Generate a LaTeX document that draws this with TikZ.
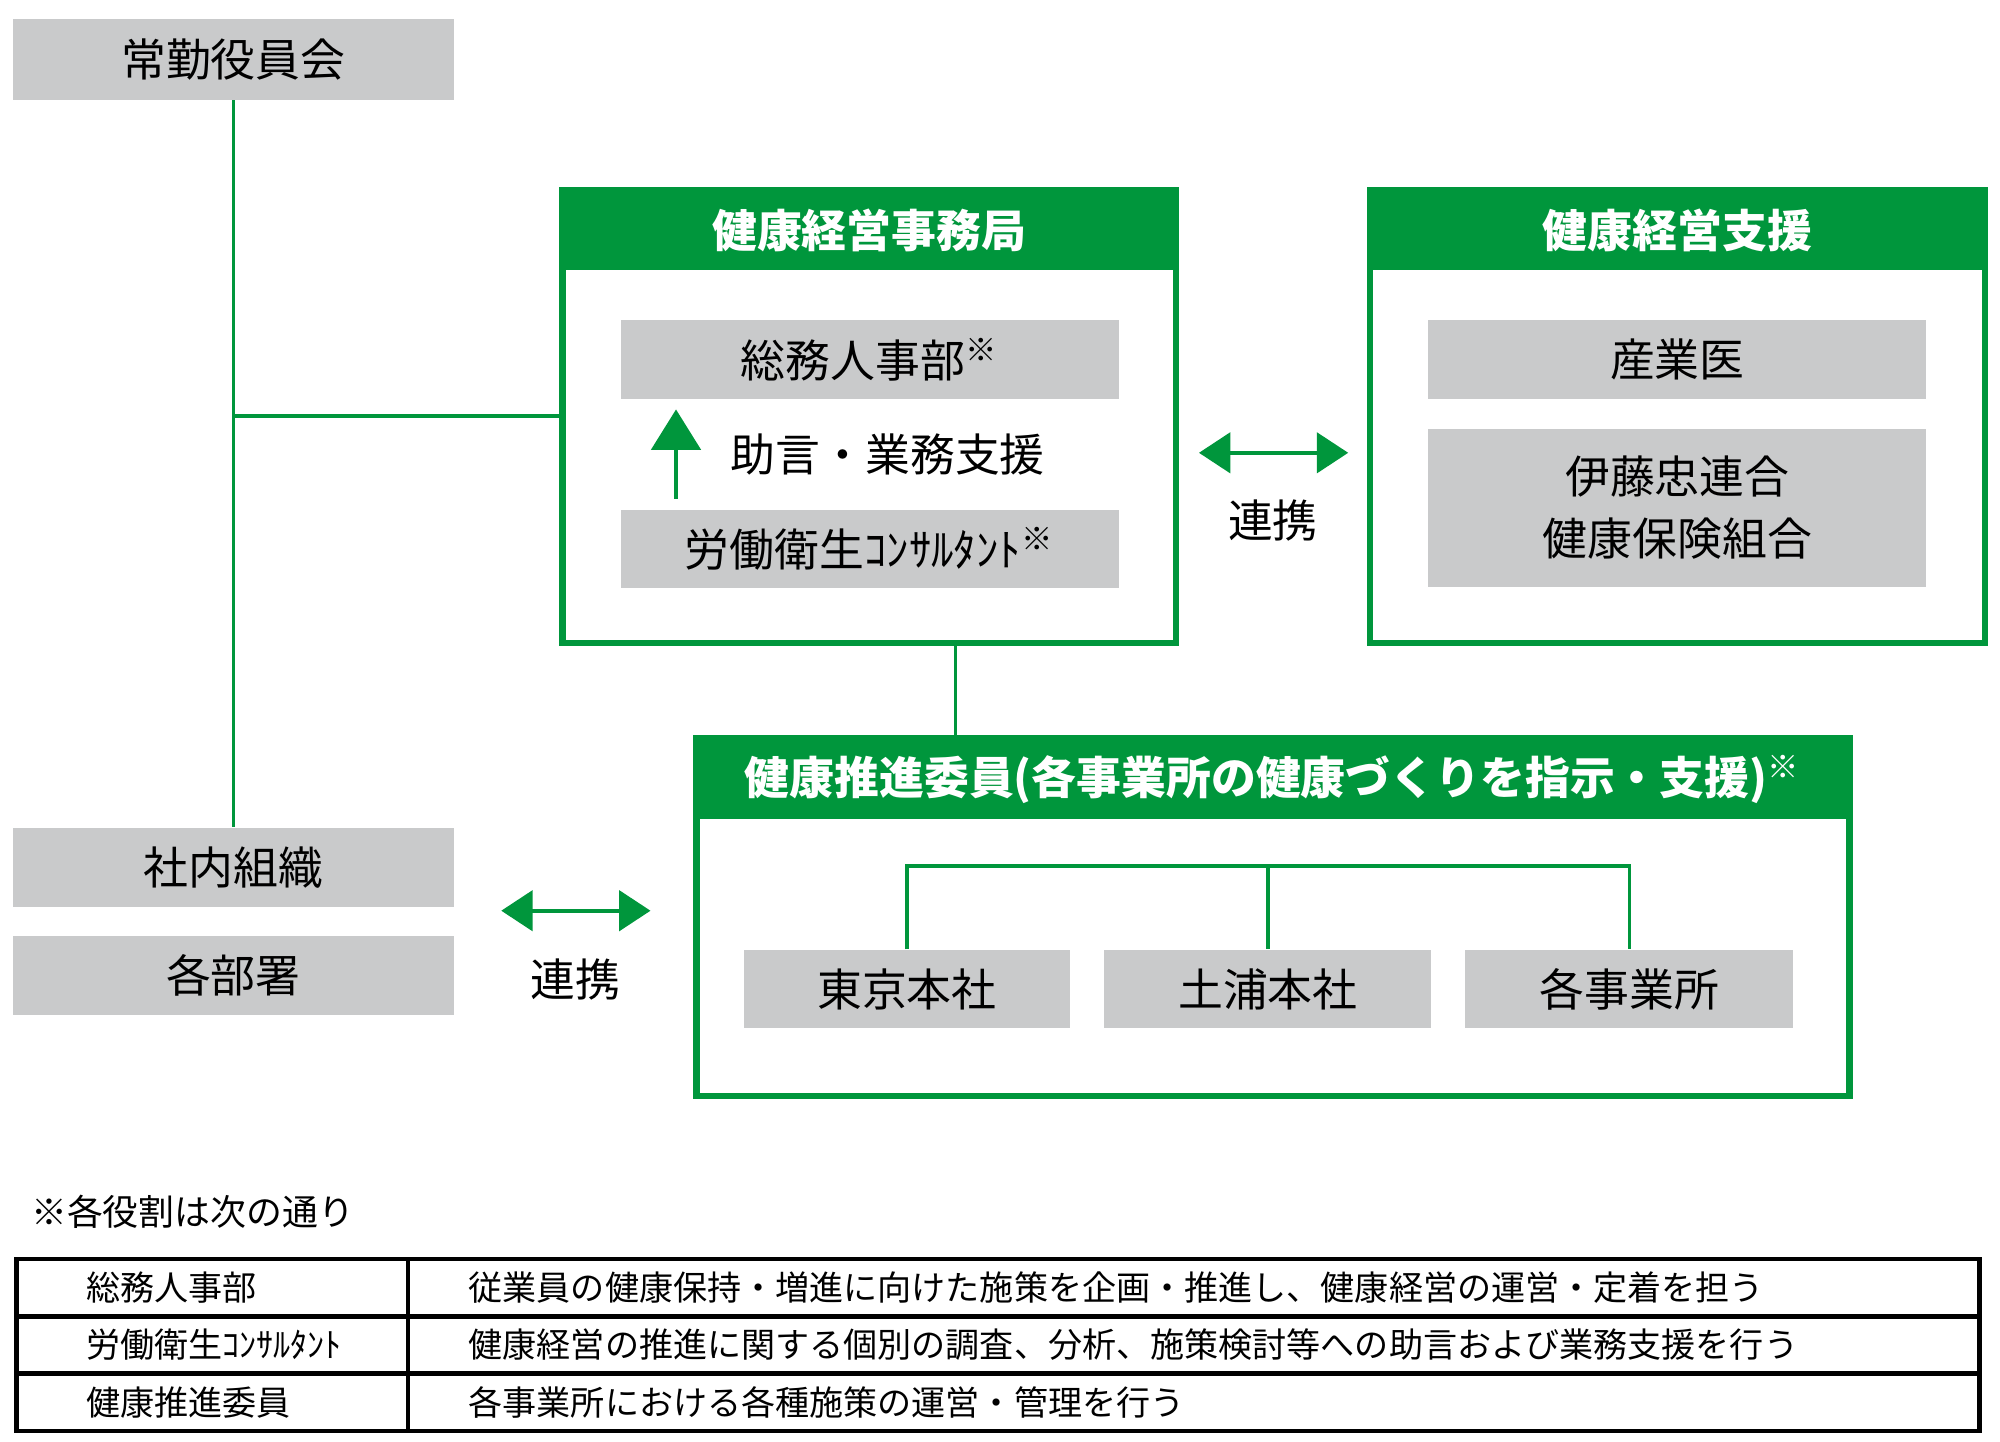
\documentclass[tikz,border=0pt]{standalone}
\usepackage{fontspec}
\setmainfont{Noto Sans CJK JP}
\usetikzlibrary{positioning,arrows.meta}
\definecolor{kgreen}{HTML}{00963C}
\definecolor{kgray}{HTML}{C9CACB}
\tikzset{
  graybox/.style={fill=kgray,draw=none,inner sep=0pt,font=\fontsize{10}{14}\selectfont,align=center},
  frame/.style={draw=kgreen,line width=1.4pt},
  head/.style={fill=kgreen,draw=none},
  headtext/.style={text=white,font=\fontsize{10}{12}\selectfont\bfseries},
  link/.style={kgreen,line width=0.8pt},
  both/.style={kgreen,line width=0.8pt,{Triangle[length=7pt,width=9pt]}-{Triangle[length=7pt,width=9pt]}},
  cell/.style={font=\fontsize{7.6}{9}\selectfont,anchor=west}
}
\begin{document}
\begin{tikzpicture}[x=0.01cm,y=-0.01cm]
\useasboundingbox (0,0) rectangle (1568,1130);
% executives
\node[graybox,minimum width=3.46cm,minimum height=0.63cm] (exec) at (183,46.5) {常勤役員会};
\node[graybox,minimum width=3.46cm,minimum height=0.62cm] (inside) at (183,680) {社内組織};
\node[graybox,minimum width=3.46cm,minimum height=0.62cm] (depts) at (183,765) {各部署};
% office
\fill[head] (441,149) rectangle (922,212);
\draw[frame] (441,149) rectangle (922,504);
\node[headtext] (officeT) at (681.5,181) {健康経営事務局};
\coordinate (officeL) at (441,326);
\coordinate (officeB) at (749,504);
\node[graybox,minimum width=3.9cm,minimum height=0.62cm] (hr) at (682,282) {総務人事部\textsuperscript{※}};
\node[graybox,minimum width=3.9cm,minimum height=0.61cm] (cons) at (682,430.5) {労働衛生ｺﾝｻﾙﾀﾝﾄ\textsuperscript{※}};
\coordinate (arB) at (530,391);
\coordinate (arT) at (530,321);
\draw[link,-{Triangle[length=9pt,width=11pt]}] (arB) -- (arT);
\node[font=\fontsize{10}{12}\selectfont] (advice) at (696,356) {助言・業務支援};
% support
\fill[head] (1074,149) rectangle (1556,212);
\draw[frame] (1074,149) rectangle (1556,504);
\node[headtext] (supT) at (1315,181) {健康経営支援};
\node[graybox,minimum width=3.9cm,minimum height=0.62cm] (doc) at (1315,282) {産業医};
\node[graybox,minimum width=3.9cm,minimum height=1.24cm] (union) at (1315,398) {伊藤忠連合\\健康保険組合};
\coordinate (c1l) at (940,355);
\coordinate (c1r) at (1057,355);
\draw[both] (c1l) -- (c1r);
\node[font=\fontsize{10}{12}\selectfont] (c1) at (998,408) {連携};
% promotion
\fill[head] (546,579) rectangle (1450,642);
\draw[frame] (546,579) rectangle (1450,859);
\node[headtext] (promT) at (998,611) {健康推進委員(各事業所の健康づくりを指示・支援)\textsuperscript{※}};
\coordinate (promTop) at (749,579);
\node[graybox,minimum width=2.56cm,minimum height=0.61cm] (tokyo) at (711,775.5) {東京本社};
\node[graybox,minimum width=2.56cm,minimum height=0.61cm] (tsuchi) at (994,775.5) {土浦本社};
\node[graybox,minimum width=2.57cm,minimum height=0.61cm] (each) at (1277.5,775.5) {各事業所};
\coordinate (bar) at (994,679);
\draw[link] (tokyo.north) |- (bar) -| (each.north);
\draw[link] (bar) -- (tsuchi.north);
\coordinate (c2l) at (393,714);
\coordinate (c2r) at (510,714);
\draw[both] (c2l) -- (c2r);
\node[font=\fontsize{10}{12}\selectfont] (c2) at (451,768) {連携};
% lines
\draw[link] (exec.south) -- (inside.north);
\draw[link] (exec.south |- officeL) -- (officeL);
\draw[link] (officeB) -- (promTop);
% table
\node[cell] (note) at (12,950) {\fontsize{8}{9}\selectfont ※各役割は次の通り};
\draw[line width=1pt] (13,987) rectangle (1552,1122);
\draw[line width=1pt] (13,1032) -- (1552,1032) (13,1077) -- (1552,1077) (320,987) -- (320,1122);
\node[cell] (r1a) at (55,1009.5) {総務人事部};
\node[cell] (r1b) at (355,1009.5) {従業員の健康保持・増進に向けた施策を企画・推進し、健康経営の運営・定着を担う};
\node[cell] (r2a) at (55,1054.5) {労働衛生ｺﾝｻﾙﾀﾝﾄ};
\node[cell] (r2b) at (355,1054.5) {健康経営の推進に関する個別の調査、分析、施策検討等への助言および業務支援を行う};
\node[cell] (r3a) at (55,1099.5) {健康推進委員};
\node[cell] (r3b) at (355,1099.5) {各事業所における各種施策の運営・管理を行う};
\end{tikzpicture}
\end{document}
